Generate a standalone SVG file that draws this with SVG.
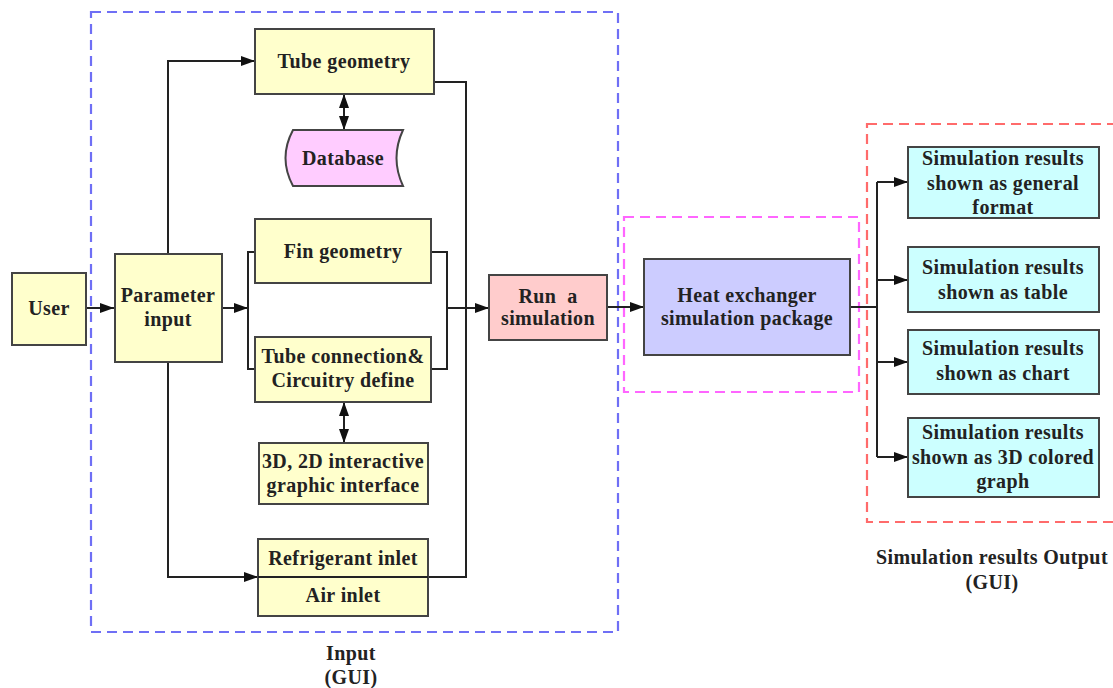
<svg xmlns="http://www.w3.org/2000/svg" width="1113" height="688" viewBox="0 0 1113 688">
<defs>
<marker id="ah" viewBox="0 0 14 10" refX="14" refY="5" markerWidth="14" markerHeight="10" markerUnits="userSpaceOnUse" orient="auto-start-reverse">
<path d="M0,0 L14,5 L0,10 Z" fill="#111"/>
</marker>
<style>
.box{stroke:#444;stroke-width:2}
.y{fill:#FFFFCC}
.c{fill:#CCFFFF}
.t{font-family:"Liberation Serif","Times New Roman",serif;font-weight:bold;font-size:20px;letter-spacing:0.4px;fill:#222;text-anchor:middle}
.ln{fill:none;stroke:#222;stroke-width:2}
.dash{fill:none;stroke-width:2.2;stroke-dasharray:10,6}
</style>
</defs>
<rect width="1113" height="688" fill="#fff"/>
<g id="groups">
<rect class="dash" x="91" y="12" width="527" height="620" stroke="#6F6FF5"/>
<rect class="dash" x="624" y="217" width="235" height="175" stroke="#FF66FF"/>
<rect class="dash" x="867" y="124" width="260" height="398" stroke="#FF6B6B"/>
<text class="t" x="351" y="660">Input</text>
<text class="t" x="351" y="684">(GUI)</text>
<text class="t" x="992" y="564">Simulation results Output</text>
<text class="t" x="992" y="589">(GUI)</text>
</g>
<g id="connectors">
<path class="ln" d="M86,308 H114" marker-end="url(#ah)"/>
<path class="ln" d="M168,254 V61 H255" marker-end="url(#ah)"/>
<path class="ln" d="M168,362 V577 H258" marker-end="url(#ah)"/>
<path class="ln" d="M222,308 H248" marker-end="url(#ah)"/>
<path class="ln" d="M255,252 H248 V369 H255"/>
<path class="ln" d="M431,252 H447 V369 H431"/>
<path class="ln" d="M447,308 H489" marker-end="url(#ah)"/>
<path class="ln" d="M434,82 H466 V577 H428"/>
<path class="ln" d="M344,94 V130" marker-start="url(#ah)" marker-end="url(#ah)"/>
<path class="ln" d="M344,402 V443" marker-start="url(#ah)" marker-end="url(#ah)"/>
<path class="ln" d="M607,307 H644" marker-end="url(#ah)"/>
<path class="ln" d="M850,307 H877"/>
<path class="ln" d="M877,182 V457"/>
<path class="ln" d="M877,182 H908" marker-end="url(#ah)"/>
<path class="ln" d="M877,280 H908" marker-end="url(#ah)"/>
<path class="ln" d="M877,362 H908" marker-end="url(#ah)"/>
<path class="ln" d="M877,457 H908" marker-end="url(#ah)"/>
</g>
<g id="user"><rect class="box y" x="12" y="273" width="74" height="72"/><text class="t" x="49" y="315">User</text></g>
<g id="param"><rect class="box y" x="115" y="254" width="107" height="108"/><text class="t" x="168" y="302">Parameter</text><text class="t" x="168" y="326">input</text></g>
<g id="tubegeo"><rect class="box y" x="255" y="29" width="179" height="65"/><text class="t" x="344" y="68">Tube geometry</text></g>
<g id="database"><path class="box" fill="#FFCCFF" d="M293,130 H403 Q390,158 403,186 H293 Q278,158 293,130 Z"/><text class="t" x="343" y="165">Database</text></g>
<g id="fingeo"><rect class="box y" x="255" y="219" width="176" height="64"/><text class="t" x="343" y="258">Fin geometry</text></g>
<g id="tubeconn"><rect class="box y" x="255" y="337" width="176" height="65"/><text class="t" x="343" y="363">Tube connection&amp;</text><text class="t" x="343" y="387">Circuitry define</text></g>
<g id="graphic"><rect class="box y" x="259" y="443" width="169" height="61"/><text class="t" x="343" y="468">3D, 2D interactive</text><text class="t" x="343" y="492">graphic interface</text></g>
<g id="inlet"><rect class="box y" x="258" y="539" width="170" height="77"/><path class="ln" d="M258,577 H428"/><text class="t" x="343" y="565">Refrigerant inlet</text><text class="t" x="343" y="602">Air inlet</text></g>
<g id="run"><rect class="box" fill="#FFCCCC" x="489" y="275" width="118" height="65"/><text class="t" x="548" y="303" xml:space="preserve">Run  a</text><text class="t" x="548" y="325">simulation</text></g>
<g id="hx"><rect class="box" fill="#CCCCFF" x="644" y="259" width="206" height="96"/><text class="t" x="747" y="302">Heat exchanger</text><text class="t" x="747" y="325">simulation package</text></g>
<g id="out1"><rect class="box c" x="908" y="147" width="191" height="71"/><text class="t" x="1003" y="165">Simulation results</text><text class="t" x="1003" y="190">shown as general</text><text class="t" x="1003" y="214">format</text></g>
<g id="out2"><rect class="box c" x="908" y="247" width="191" height="65"/><text class="t" x="1003" y="274">Simulation results</text><text class="t" x="1003" y="299">shown as table</text></g>
<g id="out3"><rect class="box c" x="908" y="330" width="191" height="64"/><text class="t" x="1003" y="355">Simulation results</text><text class="t" x="1003" y="380">shown as chart</text></g>
<g id="out4"><rect class="box c" x="908" y="418" width="191" height="79"/><text class="t" x="1003" y="439">Simulation results</text><text class="t" x="1003" y="464">shown as 3D colored</text><text class="t" x="1003" y="488">graph</text></g>
</svg>
